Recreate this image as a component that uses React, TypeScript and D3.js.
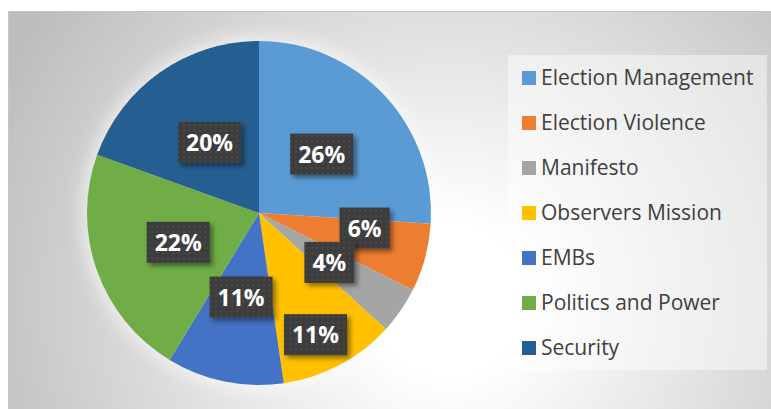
import React from "react";
import * as d3 from "d3";

const categories = [
  "Election Management",
  "Election Violence",
  "Manifesto",
  "Observers Mission",
  "EMBs",
  "Politics and Power",
  "Security",
];
const values = [26.0, 6.4, 4.4, 10.9, 11.0, 21.8, 19.5];
const colors = ["#5B9BD5", "#ED7D31", "#A5A5A5", "#FFC000", "#4472C4", "#70AD47", "#255E91"];
// label placement (fraction of radius, angle shift in degrees) – Excel best-fit style
const labelRadius = [0.5, 0.62, 0.5, 0.78, 0.5, 0.5, 0.5];
const labelAngleShift = [0, -7, 0.5, 3, 0.5, -0.5, 0];

const W = 771;
const H = 409;

export default function App() {
  const cx = 259;
  const cy = 213;
  const r = 172;
  const total = d3.sum(values);
  const pie = d3.pie<number>().sort(null).value((d) => d);
  const arcs = pie(values);
  const arcGen = d3.arc<d3.PieArcDatum<number>>().innerRadius(0).outerRadius(r);

  const legendX = 522;
  const legendY0 = 71;
  const legendStep = 45;
  const yLegend = d3.scaleLinear().domain([0, 1]).range([legendY0, legendY0 + legendStep]);

  return (
    <svg
      width={W}
      height={H}
      style={{ position: "absolute", left: 0, top: 0, fontFamily: "'Open Sans', sans-serif" }}
    >
      <defs>
        <radialGradient id="bg" gradientUnits="userSpaceOnUse" cx={450} cy={300} r={500}>
          <stop offset="0" stopColor="#ffffff" />
          <stop offset="0.15" stopColor="#ffffff" />
          <stop offset="1" stopColor="#bdbdbd" />
        </radialGradient>
        <pattern id="dots" width={5.33} height={5.33} patternUnits="userSpaceOnUse">
          <rect width={5.33} height={5.33} fill="#3c3c3c" />
          <rect x={2} y={2} width={1.4} height={1.4} fill="#575757" />
        </pattern>
        <filter id="shadow" x="-30%" y="-30%" width="160%" height="160%">
          <feDropShadow dx={3} dy={3} stdDeviation={2.5} floodColor="#000" floodOpacity={0.45} />
        </filter>
        <filter id="glow" x="-20%" y="-20%" width="140%" height="140%">
          <feGaussianBlur stdDeviation={8} />
        </filter>
      </defs>
      <rect x={8.5} y={11.5} width={W} height={H} fill="url(#bg)" stroke="#c6c6c6" strokeWidth={1} />
      <circle cx={cx} cy={cy} r={r + 6} fill="#ffffff" opacity={0.55} filter="url(#glow)" />
      <g transform={`translate(${cx},${cy})`}>
        {arcs.map((a, i) => (
          <path key={i} d={arcGen(a) as string} fill={colors[i]} />
        ))}
      </g>
      <g>
        {arcs.map((a, i) => {
          const mid = (a.startAngle + a.endAngle) / 2 + (labelAngleShift[i] * Math.PI) / 180;
          const rr = r * labelRadius[i];
          const x = cx + rr * Math.sin(mid);
          const y = cy - rr * Math.cos(mid);
          const txt = `${Math.round((values[i] / total) * 100)}%`;
          const bw = txt.length === 2 ? 50 : 63;
          const bh = 41;
          return (
            <g key={i}>
              <rect
                x={x - bw / 2}
                y={y - bh / 2}
                width={bw}
                height={bh}
                fill="url(#dots)"
                filter="url(#shadow)"
              />
              <text
                x={x}
                y={y + 8.5}
                textAnchor="middle"
                fill="#ffffff"
                fontWeight={700}
                fontSize={23}
              >
                {txt}
              </text>
            </g>
          );
        })}
      </g>
      <rect x={508} y={55} width={259} height={315} fill="#ffffff" opacity={0.45} />
      {categories.map((c, i) => (
        <g key={c}>
          <rect x={legendX} y={yLegend(i)} width={14} height={14} fill={colors[i]} />
          <text x={541} y={yLegend(i) + 14} fontSize={21} fill="#404040">
            {c}
          </text>
        </g>
      ))}
    </svg>
  );
}
